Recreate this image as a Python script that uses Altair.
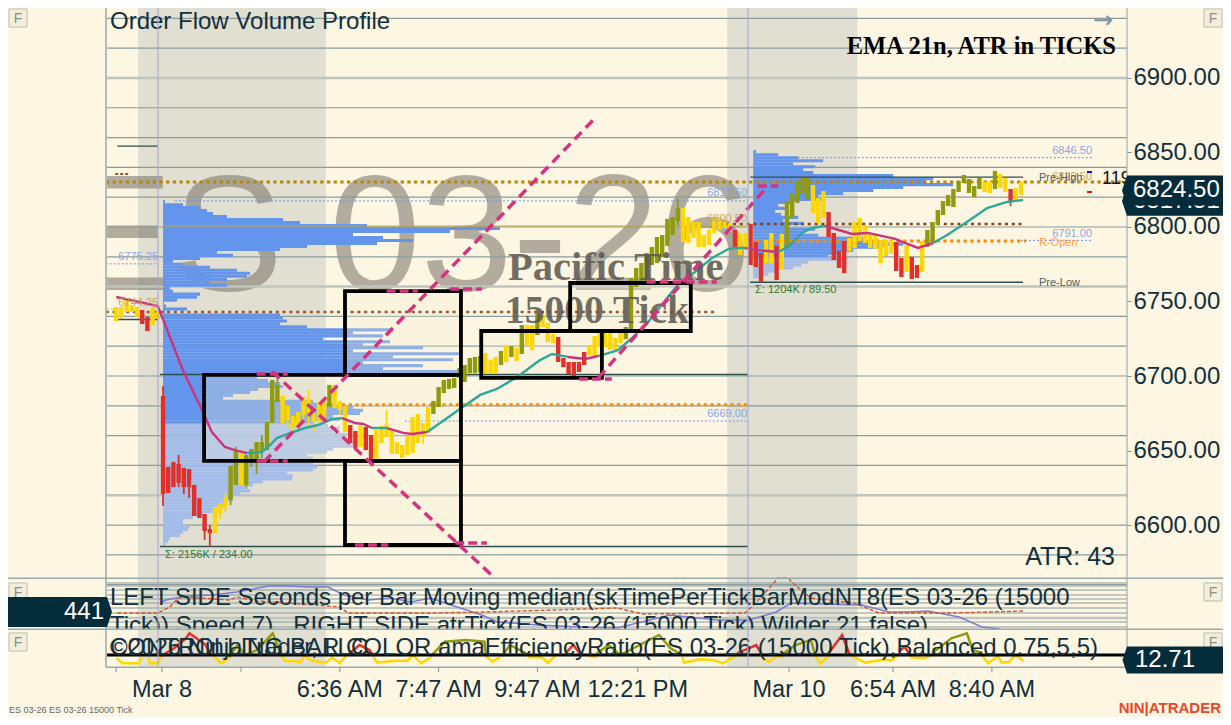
import altair as alt
import pandas as pd

# ---------- candles (bar -8 .. 166) ----------
FIRST_BAR = -8
BAR_HIGH = [6746.3,6746.3,6751.0,6747.6,6746.3,6744.3,6739.6,6745.6,6743.0,
 6686.6,6639.0,6642.3,6641.0,6638.3,6637.6,6626.9,6618.1,6607.4,6597.3,
 6611.4,6614.8,6618.8,6639.6,6649.7,6647.7,6647.0,6651.0,6655.7,6655.7,
 6669.1,6697.3,6694.0,6686.6,6679.9,6673.2,6675.8,6685.9,6683.9,6675.2,
 6682.6,6683.9,6694.0,6694.0,6683.3,6679.9,6667.1,6663.1,6666.5,6665.8,
 6660.4,6663.8,6666.5,6667.1,6663.8,6655.7,6653.7,6659.7,6672.5,6674.5,
 6668.5,6679.2,6683.3,6692.6,6697.3,6698.0,6698.7,6705.4,6707.4,6712.1,
 6712.8,6713.4,6715.4,6710.7,6712.8,6716.8,6720.8,6720.1,6718.8,6734.2,
 6734.2,6734.2,6742.3,6740.9,6735.6,6728.2,6726.2,6712.1,6709.4,6709.4,
 6709.4,6716.1,6720.8,6726.8,6729.5,6729.5,6729.5,6725.5,6729.5,6732.9,
 6765.8,6772.5,6775.8,6782.5,6786.6,6793.3,6794.6,6805.4,6806.7,6812.7,
 6812.7,6806.7,6803.3,6803.3,6794.6,6798.0,6806.0,6806.0,6803.3,6802.7,
 6798.0,6796.0,6796.0,6802.0,6789.9,6782.5,6791.3,6796.0,6787.3,6795.3,
 6816.8,6822.1,6830.2,6832.9,6832.9,6828.2,6819.4,6824.1,6810.0,6796.0,
 6783.9,6790.6,6792.6,6803.3,6806.0,6801.3,6796.0,6794.6,6791.3,6791.3,
 6791.3,6789.9,6779.2,6787.9,6779.9,6774.5,6790.6,6798.0,6803.3,6811.4,
 6817.4,6821.5,6825.5,6830.8,6834.9,6832.2,6827.5,6832.9,6830.2,6830.2,
 6837.6,6835.5,6832.9,6825.5,6826.2,6830.2]
BAR_LOW = [6736.9,6738.9,6743.0,6743.0,6739.6,6734.9,6730.2,6734.2,6738.2,
 6620.8,6621.5,6625.5,6628.2,6625.5,6625.5,6606.1,6604.7,6596.0,6594.7,
 6594.7,6608.1,6612.1,6616.8,6626.9,6626.9,6626.9,6642.3,6641.6,6649.0,
 6650.3,6668.5,6682.6,6668.5,6670.5,6665.1,6667.1,6673.8,6675.2,6669.1,
 6669.1,6672.5,6679.2,6678.5,6677.2,6662.4,6655.0,6651.7,6652.4,6650.3,
 6644.3,6644.3,6655.0,6659.1,6647.7,6647.7,6645.0,6647.0,6648.3,6655.0,
 6659.1,6661.8,6674.5,6679.2,6688.6,6691.3,6692.0,6698.7,6696.0,6702.0,
 6702.0,6702.7,6702.0,6702.0,6702.0,6707.4,6709.4,6712.8,6710.1,6714.8,
 6720.1,6717.4,6727.5,6732.9,6722.8,6722.1,6709.4,6706.0,6701.3,6699.3,
 6702.7,6707.4,6714.1,6712.8,6719.5,6719.5,6717.4,6717.4,6722.1,6724.8,
 6730.9,6759.7,6761.1,6763.1,6774.5,6775.8,6779.9,6787.3,6794.6,6804.0,
 6789.9,6789.3,6792.6,6786.6,6786.6,6787.9,6796.0,6798.0,6799.3,6796.6,
 6786.6,6781.2,6786.6,6774.5,6773.1,6763.1,6775.8,6775.8,6764.4,6771.8,
 6786.6,6806.7,6816.1,6822.1,6818.1,6809.4,6802.7,6806.0,6793.3,6777.8,
 6772.5,6769.1,6783.9,6785.9,6790.6,6789.3,6785.9,6785.3,6775.8,6780.5,
 6781.9,6770.5,6766.4,6769.8,6765.1,6765.8,6769.8,6786.6,6789.9,6801.3,
 6808.0,6814.1,6813.4,6823.5,6829.5,6822.8,6820.1,6825.5,6823.5,6822.8,
 6825.5,6826.2,6823.5,6817.4,6818.1,6821.5]
BAR_COLOR_RUNS = [("Y",5),("R",2),("Y",2),("R",10),("Y",3),("O",2),("Y",1),("O",7),("Y",9),("O",1),
 ("Y",3),("R",2),("Y",1),("R",2),("Y",11),("O",10),("Y",3),("O",1),("Y",1),("O",1),("Y",1),("O",1),
 ("Y",2),("O",1),("Y",3),("R",6),("Y",7),("O",11),("Y",10),("R",1),("Y",2),("R",3),("Y",2),("R",1),
 ("Y",1),("O",5),("Y",3),("R",4),("Y",9),("R",2),("Y",1),("R",2),("Y",1),("O",11),("Y",2),("O",1),
 ("Y",2),("R",1),("Y",2)]
WICK_BAR = [1,4,5,6,9,10,12,13,14,15,16,17,18,19,20,23,25,26,28,29,30,35,44,51,100,164]
WICK_HIGH = [6693.3,6647.0,6638.3,6637.6,6607.4,6600.0,6614.8,6621.5,6639.6,6652.4,6651.0,6647.0,6651.0,
 6655.7,6660.4,6701.3,6679.9,6673.2,6685.9,6690.6,6675.2,6683.3,6677.2,6668.5,6818.8,6825.5]
WICK_LOW = [6612.8,6625.5,6620.8,6618.1,6590.0,6585.3,6604.1,6608.7,6613.4,6626.9,6626.9,6625.5,6638.9,
 6634.3,6645.0,6682.6,6665.1,6661.8,6670.5,6667.1,6662.4,6673.8,6659.1,6654.4,6801.3,6814.1]

# ---------- EMA 21 ----------
EMA_BAR = [-8,0,4.8,8.5,10.4,12.9,14.8,17.2,20,21.6,22.9,25,28.3,30.8,33.5,35.4,37.9,39.5,41.2,44.1,47.2,48.9,
 51.8,54.3,58.1,62,65.2,69.1,73.5,75.8,78.9,82.2,84.7,88.5,91.2,94.3,98.1,100,103.3,106.6,109.7,111,112.9,
 115.4,119.3,121.2,123.9,125.8,128.3,131.6,133.5,136.6,141.8,143.3,146.2,149.1,151.8,155.6,159.5,163.3,166.4]
EMA_PRICE = [6753,6747,6704,6677.2,6662.4,6652.4,6650.3,6648.3,6649,6653.7,6658.4,6661.1,6665.1,6667.1,6671.1,
 6671.8,6668.5,6667.8,6665.1,6665.1,6661.8,6661.1,6662.4,6668.5,6677.9,6687.3,6691.3,6699.3,6710.7,6714.8,
 6712.8,6711.4,6713.4,6717.4,6725.5,6736.2,6753,6761.1,6769.8,6779.2,6785.2,6785.9,6785.9,6784.5,6783.2,
 6786.6,6796,6799.3,6800.7,6797.3,6795.3,6796,6792,6789.9,6785.9,6789.2,6794.6,6803.3,6812.7,6816.8,6818.1]
EMA_STATE = ["M"]*7 + ["T"]*8 + ["M"]*3 + ["T"]*1 + ["M"]*3 + ["T"]*8 + ["M"]*2 + ["T"]*10 + ["M"]*2 + ["T"]*4 + ["M"]*7 + ["T"]*7

# ---------- volume profiles ----------
PROFILE1_TOP = 6818
PROFILE1_VOL = [2,20,37,44,50,64,120,137,204,337,287,190,220,250,214,144,117,54,70,37,10,20,47,74,87,84,64,47,64,7,
 10,37,34,14,1,3,24,2,117,120,124,117,144,230,190,220,160,227,200,260,190,297,230,290,200,260,220,297,200,
 94,105,117,120,95,87,70,60,150,170,190,200,197,170,177,150,165,177,170,187,180,187,190,190,170,164,144,150,
 137,150,154,150,124,130,129,100,90,85,87,77,70,70,64,64,50,54,40,30,20,20,27,25,20,17,7,5,2]
PROFILE2_TOP = 6851.5
PROFILE2_VOL = [3,25,45,70,40,62,50,60,140,180,172,200,150,120,90,65,70,40,25,35,22,28,45,30,50,35,62,50,65,110,
 120,150,130,100,85,75,95,55,48,40,25,15,5]

# ---------- panels of the second and third indicator ----------
SEC_BAR = [0.8,1.6,5.4,10.6,15.2,21.4,25.2,28.9,32.7,35.8,40.4,44.8,48.7,52.5,56.4,62.3,65.4,73.1,81.4,88.3,98.5,
 107.5,113.7,118.9,121.8,127.9,135.4,140.6,144.3,148.1,154.1,158.5,162]
SEC_VAL = [561,585,633,645,681,753,753,741,741,645,585,609,561,609,525,405,321,285,261,249,405,345,345,441,549,537,
 525,441,441,453,381,261,237]
ATR_BAR = [-7.8,0,2.3,3.9,5.4,13.7,15.2,19.1,30.4,35,36.6,52.5,63.1,76,88.3,93.3,112.9,115,119.3,121.2,122.5,125.6,
 133.9,138.7,152.5,166.4]
ATR_VAL = [429,429,501,609,621,585,621,573,525,501,429,429,441,465,489,417,429,549,849,849,765,609,549,429,429,453]
ER_SEGMENTS = [
 ("#ffd700",[-7.9,-6.8,-3.7,-3.1],[14.4,9.4,9.4,15.4]),
 ("#ffd700",[-1.8,-1.5,0,.7],[15.4,9.4,9.4,16.7]),
 ("#e0302a",[.7,3.1,5.4,6.1,9.2,10.3],[16.7,24.4,34.4,39.4,27.7,17.7]),
 ("#ffd700",[10.7,12.2,13.7],[16.7,9.4,14.4]),
 ("#8f9a0c",[13.7,15.3,16.8,19.1,22.1,23.6],[15.4,27.7,17.7,22.7,39.4,19.4]),
 ("#ffd700",[23.8,24.4,27.4,28.2,29.7,32.4,33.5,35,36.2],[16.7,12,11,16.7,12,10,15.4,9.4,16.7]),
 ("#e0302a",[36.5,38.8,40.7,41.5],[17.7,27.7,22.7,16.7]),
 ("#ffd700",[41.5,42.2,45.7,48,49.1,50.6,52.5],[15.4,10,12,12,17.7,9.4,15.4]),
 ("#8f9a0c",[52.5,55.2,59.3,62.8,63.1],[16.7,31,32.7,31,17.7]),
 ("#ffd700",[63.1,64.3,65.8],[16.7,11,15.4]),
 ("#8f9a0c",[66.2,67.7,70.8],[16.7,27.7,19.4]),
 ("#ffd700",[71.1,73.8,75,76.4],[15.4,15.4,10,16.7]),
 ("#e0302a",[78.4,79.9,81.4],[19.4,27.7,17.7]),
 ("#ffd700",[82.9,84.4],[16.7,15.4]),
 ("#8f9a0c",[84.4,86.7,88.9,96.4,98.6,100.9],[19.4,27.7,17.7,37.7,24.4,17.7]),
 ("#ffd700",[100.9,101.2,104.2,106.9,108.7,111.4],[16,10,13.4,12.7,9.4,17.7]),
 ("#e0302a",[111.4,113.6,115.1,116.2],[19.4,24.4,27.7,17.7]),
 ("#ffd700",[116.2,117.4,119.2,120.4],[16,11,16.7,15.4]),
 ("#8f9a0c",[120.4,122.6,125.6,126.4],[19.4,27.7,32.7,17.7]),
 ("#ffd700",[126.4,127.5,129],[16.7,9.4,16.7]),
 ("#e0302a",[129,131.6,133.1],[19.4,37.7,17.7]),
 ("#ffd700",[133.5,136.1,139.9,141,142.1],[16.7,10,13.4,12,16.7]),
 ("#e0302a",[142.5,143.6,144.7],[21,26,17.7]),
 ("#ffd700",[144.7,147.4,148.5],[15.4,14.4,16.7]),
 ("#8f9a0c",[148.9,152.6,155.6,156.7,158.6],[19.4,34.4,39.4,22.7,19.4]),
 ("#ffd700",[158.6,159.7,161.6,162.3,163.8,164.9,166.5],[16.7,9.4,16.7,10,11,17.7,12]),
]

# ---------- annotations ----------
Y_TICKS = [6900,6850,6800,6750,6700,6650,6600]
GRID_PRICES = [6940,6920,6880,6860,6840,6820,6800,6780,6740,6720,6700,6680,6660,6640,6600,6580,6560]
GRID_PRICES_MAJOR = [6900,6760,6620]
SEC_GRID = [789,753,705,645,597,549,489,429,321,261]
SEC_GRID_MAJOR = [369]
X_TICK_BARS = [-8,0.8,16,35,54,73,92.3,121.4,141.4,160.4]
X_TICK_LABELS = ["","Mar 8","","6:36 AM","7:47 AM","9:47 AM","12:21 PM","Mar 10","6:54 AM","8:40 AM"]
SESSIONS = [(-3.8,32.3),(109.5,134.5)]
SESSION_BREAKS = [0.04,113.5]
BOXES = [(8.9,58.3,6700.7,6643),(36,58.3,6757,6700.7),(36,58.3,6643,6586.6),(62.2,85.4,6730.2,6698.7),(79.3,102.5,6762.4,6730.2)]
TREND_LINES = [(20.4,6642.3,84.1,6873.1),(22,6703,64.8,6564.5),(84.7,6698.7,117.3,6827.5)]
TREND_CAPS = [(19,25,6701.3),(19,25,6643),(37.9,44.3,6586.6),(57.2,63.3,6587.9),(44,50,6757),(56.2,62.3,6758.4),
              (94,107.5,6763),(81,87.3,6698),(115.4,119.3,6827.5)]
LEVELS = [
 (6830.2,-10,186.4,"#b8860b",3,[3.3,3.4]),
 (6743,-10,107.7,"#a0522d",2.5,[3,3.8]),
 (6802,108,166.8,"#8b4513",2.5,[3,3.8]),
 (6800.7,1,112.9,"#c9a227",1.1,None),
 (6680.7,35.4,113.5,"#ff8c00",3,[3.3,3.4]),
 (6790.6,115,167,"#ff8c00",3,[3.3,3.4]),
 (6817.5,3.3,113.5,"#6495ed",1,[2,2]),
 (6669.8,47.5,113.5,"#6495ed",1,[2,2]),
 (6775.25,-10,0,"#6495ed",1,[2,2]),
 (6846.5,117.7,179.7,"#6495ed",1,[2,2]),
 (6791,166,179.7,"#6495ed",1,[2,2]),
 (6701,0.4,113.5,"#2f4f4f",1.3,None),
 (6585.6,0.4,113.5,"#2f4f4f",1.3,None),
 (6833.5,113.9,166.4,"#2f4f4f",1.3,None),
 (6762.9,113.9,166.4,"#2f4f4f",1.3,None),
 (6854.3,-7.8,0,"#2f4f4f",1.3,None),
 (6737.9,-8,0,"#2f4f4f",1.5,None),
 (6835.6,-8.2,-5.7,"#a0522d",2,[3,2]),
 (6745,-10,-7,"#d2a050",1,[3,2]),
]
COL = {"Y":"#ffd700","R":"#e0302a","O":"#8f9a0c","M":"#c9347f","T":"#2ea898"}
BG = "#fdf6e3"; INK = "#12303c"; FLAG = "#052c3a"; SESSION = "#e1dfd1"
SANS = "Liberation Sans"; SERIF = "Liberation Serif"
M = 8  # the page margin: picture pixel = chart pixel + M

XS = alt.Scale(domain=[-28.81,204.85], nice=False, zero=False)
YP = alt.Scale(domain=[6471.2,6946.93], nice=False, zero=False)
YS = alt.Scale(domain=[-819,7689], nice=False, zero=False)
YE = alt.Scale(domain=[-44.29,664.71], nice=False, zero=False)
def X(f="n"): return alt.X(f"{f}:Q", scale=XS, axis=None)
def Y(f="p", s=YP): return alt.Y(f"{f}:Q", scale=s, axis=None)

def level(p,n1,n2,color,w,dash=None,s=YP):
    kw = dict(color=color,strokeWidth=w)
    if dash: kw["strokeDash"]=dash
    return alt.Chart(pd.DataFrame({"n":[n1],"n2":[n2],"p":[p]})).mark_rule(**kw).encode(x=X(),x2=alt.X2("n2:Q"),y=Y(s=s))
def pix_rect(x1,x2,y1,y2,color,**kw):
    return alt.Chart(pd.DataFrame({"a":[0]})).mark_rect(color=color,**kw).encode(
        x=alt.value(x1-M),x2=alt.value(x2-M),y=alt.value(y1-M),y2=alt.value(y2-M))
def label(t,x,y,size,color=INK,align="left",font=SANS,weight="normal",opacity=1,baseline="middle"):
    return alt.Chart(pd.DataFrame({"t":[t]})).mark_text(align=align,baseline=baseline,font=font,fontSize=size,
        fontWeight=weight,color=color,opacity=opacity).encode(text="t:N",x=alt.value(x-M),y=alt.value(y-M))
def sessions(y1,y2):
    return [alt.Chart(pd.DataFrame({"n":[a],"n2":[b]})).mark_rect(color=SESSION).encode(
        x=X(),x2=alt.X2("n2:Q"),y=alt.value(y1-M),y2=alt.value(y2-M)) for a,b in SESSIONS]

axes = alt.Chart(pd.DataFrame({"n":[0],"p":[6700]})).mark_point(opacity=0).encode(
    x=X(),
    y=alt.Y("p:Q",scale=YP,axis=alt.Axis(values=Y_TICKS,format=".2f",orient="right",
        offset=-96,domain=False,grid=False,title=None,tickSize=4,tickColor="#7f9298",labelPadding=2,labelFont=SANS,
        labelFontSize=24,labelColor=INK,labelOverlap=False,labelBound=False,zindex=1)))

main = sessions(0+M,667)
# watermark
main.append(label("ES 03-26",63,290,165,color="#7a756a",opacity=.565,baseline="alphabetic"))
# grid
for p in GRID_PRICES: main.append(level(p,-10,186.4,"#8a9c9e",1.2))
for p in GRID_PRICES_MAJOR: main.append(level(p,-10,186.4,"#bfc4bc",2.5))
# profiles
def profile(top,vols,left,split):
    prices=[top-2*i for i in range(len(vols))]
    df=pd.DataFrame({"p":prices,"p2":[v-2.1 for v in prices],"n":[left]*len(vols),"n2":[left+v/5.2 for v in vols],
        "c":["#6495ed" if v>split else "#a3bcea" for v in prices]})
    return alt.Chart(df).mark_rect(strokeWidth=0).encode(x=X(),x2=alt.X2("n2:Q"),y=Y(),y2=alt.Y2("p2:Q"),color=alt.Color("c:N",scale=None))
main.append(profile(PROFILE1_TOP,PROFILE1_VOL,1,6669))
main.append(profile(PROFILE2_TOP,PROFILE2_VOL,114.5,6781))
# box tint
bx=pd.DataFrame(BOXES,columns=["n","n2","p","p2"])
main.append(alt.Chart(bx).mark_rect(color="#f6eed4",opacity=.3).encode(x=X(),x2=alt.X2("n2:Q"),y=Y(),y2=alt.Y2("p2:Q")))
for L in LEVELS: main.append(level(*L))
# candles
colors=[COL[c] for c,k in BAR_COLOR_RUNS for _ in range(k)]
bars=pd.DataFrame({"n":[FIRST_BAR+i for i in range(len(BAR_HIGH))],"p":BAR_HIGH,"p2":BAR_LOW,"c":colors})
wd=pd.DataFrame({"n":WICK_BAR,"p":WICK_HIGH,"p2":WICK_LOW})
wd["c"]=[colors[n-FIRST_BAR] for n in WICK_BAR]
main.append(alt.Chart(wd).mark_rule(strokeWidth=1.8).encode(x=X(),y=Y(),y2=alt.Y2("p2:Q"),color=alt.Color("c:N",scale=None)))
main.append(alt.Chart(bars).mark_rule(strokeWidth=4.4).encode(x=X(),y=Y(),y2=alt.Y2("p2:Q"),color=alt.Color("c:N",scale=None)))
# EMA
start=0
for i in range(1,len(EMA_BAR)):
    if i==len(EMA_BAR)-1 or EMA_STATE[i]!=EMA_STATE[start]:
        df=pd.DataFrame({"n":EMA_BAR[start:i+1],"p":EMA_PRICE[start:i+1]})
        main.append(alt.Chart(df).mark_line(color=COL[EMA_STATE[start]],strokeWidth=2.4).encode(x=X(),y=Y(),order="n:Q"))
        start=i
# small texts
for t,x,y,c,a,s in [("6775.25",158,257,"#88a6ea","right",11),("6744.25",158,303,"#c8a566","right",11),
    ("6817.50",747,193,"#88a6ea","right",11),("6800.50",747,219,"#c8a566","right",11),("6669.00",747,414,"#88a6ea","right",11),
    ("6846.50",1092,151,"#88a6ea","right",11),("6829.50",1092,177,"#c8a566","right",11),("6791.00",1092,234,"#88a6ea","right",11),
    ("Pre-High",1039,178,"#4d5f66","left",11),("Pre-Low",1039,283,"#4d5f66","left",11),("R-Open",1039,243,"#ffa040","left",11),
    ("Σ: 2156K / 234.00",165,555,"#2e7d32","left",11),("Σ: 1204K / 89.50",755,290,"#2e7d32","left",11)]:
    main.append(label(t,x,y,s,color=c,align=a))
main.append(label("Pacific Time",508,268,40.5,color="#5a564d",font=SERIF,weight="bold",opacity=.85))
main.append(label("15000 Tick",505,311,39.5,color="#5a564d",font=SERIF,weight="bold",opacity=.85))
# boxes, then trend lines over them
main.append(alt.Chart(bx).mark_rect(filled=False,stroke="black",strokeWidth=3.8).encode(x=X(),x2=alt.X2("n2:Q"),y=Y(),y2=alt.Y2("p2:Q")))
for a,b,c,d in TREND_LINES:
    main.append(alt.Chart(pd.DataFrame({"n":[a,c],"p":[b,d]})).mark_line(color="#d6337f",strokeWidth=3.5,strokeDash=[10,6]).encode(x=X(),y=Y()))
for a,b,p in TREND_CAPS:
    main.append(alt.Chart(pd.DataFrame({"n":[a,b],"p":[p,p]})).mark_line(color="#d6337f",strokeWidth=3.5,strokeDash=[9,4]).encode(x=X(),y=Y()))
main.append(pix_rect(1087,1092,171,173,"#1010e0"))
main.append(pix_rect(1087,1092,191,193,"#f01010"))
main.append(label("119",1102,179,18,color="#111111"))
main.append(label("Order Flow Volume Profile",110,22,24))
main.append(label("EMA 21n, ATR in TICKS",1116,47,24.5,color="#000000",align="right",font=SERIF,weight="bold"))
main.append(label("→",1103,21,24,color="#7f9298",align="center",font="DejaVu Sans"))
main.append(label("ATR: 43",1115,557,25,align="right"))

# second panel
panel2=[]
for v in SEC_GRID: panel2.append(level(v,-10,186.4,"#8a9c9e",1.1,s=YS))
for v in SEC_GRID_MAJOR: panel2.append(level(v,-10,186.4,"#bfc4bc",2.5,s=YS))
panel2.append(alt.Chart(pd.DataFrame({"n":SEC_BAR,"p":SEC_VAL})).mark_line(color="#7b7bd6",strokeWidth=1.5).encode(x=X(),y=Y(s=YS)))
panel2.append(alt.Chart(pd.DataFrame({"n":ATR_BAR,"p":ATR_VAL})).mark_line(color="#d2562a",strokeWidth=1.4,strokeDash=[4,2]).encode(x=X(),y=Y(s=YS)))
panel2.append(label("LEFT SIDE Seconds per Bar Moving median(skTimePerTickBarModNT8(ES 03-26 (15000",110,598,24))
panel2.append(label("Tick)) Speed 7) \u00a0\u00a0RIGHT SIDE atrTick(ES 03-26 (15000 Tick) Wilder 21 false)",110,626,24))

# third panel
panel3=[pix_rect(106,1127,629,667,BG)]+sessions(629,667)
for c,ns,vs in ER_SEGMENTS:
    panel3.append(alt.Chart(pd.DataFrame({"n":ns,"p":vs})).mark_line(color=c,strokeWidth=2.5).encode(x=X(),y=Y(s=YE)))
panel3.append(level(17.7,-10,186.4,"#000000",3,s=YE))
panel3.append(label("©2026 NinjaTrader, LLC",110,648,24))
panel3.append(label("CONTROLLING BAR COLOR amaEfficiencyRatio(ES 03-26 (15000 Tick),Balanced 0.75,5,5)",110,648,24))

# chrome
chrome=[]
for n in SESSION_BREAKS:
    chrome.append(alt.Chart(pd.DataFrame({"n":[n]})).mark_rule(color="#a8a8dc",strokeWidth=1.1).encode(x=X(),y=alt.value(0),y2=alt.value(667-M)))
chrome+= [pix_rect(8,105,8,717,BG),pix_rect(1127,1223,8,717,BG)]
chrome+= [pix_rect(105,107,8,667,"#b5bcb8"),pix_rect(1126.5,1127.5,8,667,"#8fa3a8"),pix_rect(8,1223,577.5,579,"#9aabae"),
          pix_rect(8,1223,628.5,630,"#9aabae"),pix_rect(106,1127,666.5,668,"#9aabae")]
# x axis: ticks and labels placed through the bar scale
xt=pd.DataFrame({"n":X_TICK_BARS,"t":X_TICK_LABELS})
chrome.append(alt.Chart(xt).mark_rule(color="#7f9298",strokeWidth=1).encode(x=X(),y=alt.value(667-M),y2=alt.value(672-M)))
chrome.append(alt.Chart(xt).mark_text(font=SANS,fontSize=23.5,color=INK,align="center",baseline="middle").encode(x=X(),y=alt.value(690-M),text="t:N"))
for x in (9,1204):
    for y in (9,583,633):
        chrome.append(pix_rect(x,x+18,y,y+18,"#f3eedc",stroke="#bdbdae",strokeWidth=1))
        chrome.append(label("F",x+9,y+10,14,color="#8d8d84",align="center"))
arrow_r="M-1,0L0,-3L0,3Z"; arrow_l="M1,0L0,-3L0,3Z"
def flag(val,half,text,s,x1,x2,tipx,shape,tx,align,size,k):
    df=pd.DataFrame({"p":[val+half],"p2":[val-half],"v":[val],"t":[text]})
    return alt.layer(
        alt.Chart(df).mark_rect(color=FLAG).encode(x=alt.value(x1-M),x2=alt.value(x2-M),y=Y(s=s),y2=alt.Y2("p2:Q")),
        alt.Chart(df).mark_point(shape=shape,filled=True,size=k,color=FLAG,opacity=1,strokeWidth=0).encode(x=alt.value(tipx-M),y=Y("v",s=s)),
        alt.Chart(df).mark_text(align=align,baseline="middle",font=SANS,fontSize=size,color="#ffffff").encode(x=alt.value(tx-M),y=Y("v",s=s),text="t:N"))
flags=[flag(6817.51,10.06,"6817.51",YP,1127,1223,1127,arrow_r,1133,"left",24,100),
       flag(6824.5,10.06,"6824.50",YP,1127,1223,1127,arrow_r,1133,"left",24,100),
       flag(441,180,"441",YS,8,107,107,arrow_l,104,"right",24,100),
       flag(12.71,13.5,"12.71",YE,1127,1223,1127,arrow_r,1135,"left",24,81)]
chrome.append(label("ES 03-26 ES 03-26 15000 Tick",9,710,9,color="#5d6b70"))
chrome.append(label("NIN|ATRADER",1221,708,15,color="#e8472a",align="right",weight="bold"))

chart=alt.layer(alt.layer(*main),alt.layer(*panel2),alt.layer(*panel3),alt.layer(*chrome),*flags,axes).resolve_scale(y="independent").properties(
    width=1215,height=709,padding=0,background=BG,
    autosize=alt.AutoSizeParams(type="none",contains="padding")
).configure_view(stroke=None)
chart.save("out.html", embed_options={"renderer": "svg", "actions": False})
